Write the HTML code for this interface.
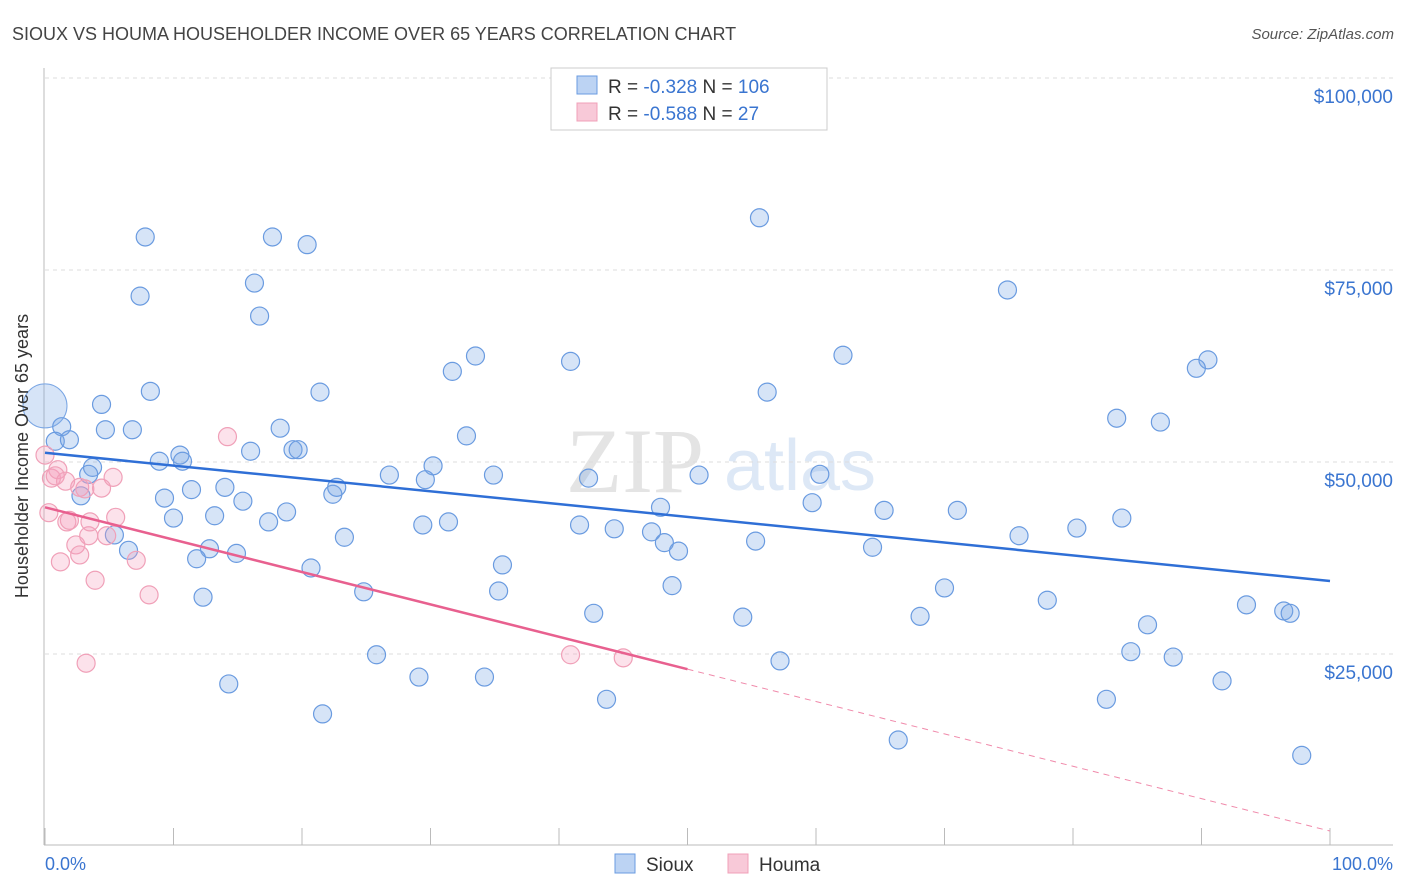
<!DOCTYPE html>
<html><head><meta charset="utf-8"><style>
body{margin:0;background:#fff;font-family:"Liberation Sans",sans-serif}
svg{display:block}
</style></head><body>
<svg id="c" width="1406" height="892" xmlns="http://www.w3.org/2000/svg">
<text x="12" y="40" font-size="18" fill="#444">SIOUX VS HOUMA HOUSEHOLDER INCOME OVER 65 YEARS CORRELATION CHART</text>
<text x="1394" y="39" font-size="15" fill="#555" font-style="italic" text-anchor="end">Source: ZipAtlas.com</text>
<text x="635" y="492" font-size="92" fill="#e4e4e4" font-family="Liberation Serif" text-anchor="middle">ZIP</text>
<text x="800" y="490" font-size="72" fill="#dde8f6" text-anchor="middle">atlas</text>
<g id="grid"></g>
<g id="axes"></g>
<g id="marks"></g>
<text x="28" y="456" font-size="18" fill="#333" text-anchor="middle" transform="rotate(-90 28 456)">Householder Income Over 65 years</text>
<text x="45" y="870" font-size="18" fill="#3a75d0">0.0%</text>
<text x="1393" y="870" font-size="18" fill="#3a75d0" text-anchor="end">100.0%</text>
<g>
<rect x="551" y="68" width="276" height="62" fill="#fff" stroke="#ccc"/>
<rect x="577" y="76" width="20" height="18" fill="#bcd3f3" stroke="#6a9be0"/>
<text x="608" y="93" font-size="19" fill="#333">R = <tspan fill="#3a75d0">-0.328</tspan>   N = <tspan fill="#3a75d0">106</tspan></text>
<rect x="577" y="103" width="20" height="18" fill="#f8c9d8" stroke="#f0a0b8"/>
<text x="608" y="120" font-size="19" fill="#333">R = <tspan fill="#3a75d0">-0.588</tspan>   N =   <tspan fill="#3a75d0">27</tspan></text>
</g>
<g>
<rect x="615" y="854" width="20" height="19" fill="#bcd3f3" stroke="#6a9be0"/>
<text x="646" y="871" font-size="19" fill="#333">Sioux</text>
<rect x="728" y="854" width="20" height="19" fill="#f8c9d8" stroke="#f0a0b8"/>
<text x="759" y="871" font-size="19" fill="#333">Houma</text>
</g>
</svg>
<script>
const yTicks=[25000,50000,75000,100000];
const yTickLabels=["$25,000","$50,000","$75,000","$100,000"];
const siouxX=[7.8,17.7,20.4,55.6,7.4,16.3,16.7,74.9,33.5,31.7,40.9,62.1,90.5,89.6,8.2,21.4,56.2,4.4,1.3,4.7,6.8,18.3,83.4,86.8,32.8,0.8,1.9,16.0,19.3,19.7,8.9,10.5,10.7,3.7,3.4,30.2,26.8,29.6,34.9,42.3,50.9,60.3,2.8,9.3,11.4,14.0,15.4,22.4,22.7,10.0,13.2,18.8,17.4,29.4,31.4,47.9,59.7,65.3,71.0,41.6,44.3,47.2,48.2,49.3,55.3,64.4,75.8,80.3,83.8,5.4,6.5,12.8,14.9,11.8,23.3,20.7,35.6,24.8,12.3,35.3,48.8,42.7,54.3,68.1,70.0,78.0,93.5,96.4,96.9,85.8,25.8,84.5,87.8,57.2,14.3,29.1,34.2,91.6,21.6,43.7,82.6,66.4,97.8];
const siouxY=[79.3,79.3,78.3,81.8,71.6,73.3,69.0,72.4,63.8,61.8,63.1,63.9,63.3,62.2,59.2,59.1,59.1,57.5,54.6,54.2,54.2,54.4,55.7,55.2,53.4,52.7,52.9,51.4,51.6,51.6,50.1,50.9,50.1,49.3,48.4,49.5,48.3,47.7,48.3,47.9,48.3,48.4,45.6,45.3,46.4,46.7,44.9,45.8,46.7,42.7,43.0,43.5,42.2,41.8,42.2,44.1,44.7,43.7,43.7,41.8,41.3,40.9,39.5,38.4,39.7,38.9,40.4,41.4,42.7,40.5,38.5,38.7,38.1,37.4,40.2,36.2,36.6,33.1,32.4,33.2,33.9,30.3,29.8,29.9,33.6,32.0,31.4,30.6,30.3,28.8,24.9,25.3,24.6,24.1,21.1,22.0,22.0,21.5,17.2,19.1,19.1,13.8,11.8];
const houmaX=[0,0.5,1.0,1.6,2.7,3.1,4.4,5.3,14.2,0.3,1.7,1.9,2.4,2.7,3.4,3.5,4.8,5.5,7.1,8.1,1.2,3.9,3.2,40.9,45.0,0.8];
const houmaY=[50.9,47.9,49.0,47.5,46.7,46.5,46.6,48.0,53.3,43.4,42.2,42.4,39.2,37.9,40.4,42.2,40.4,42.8,37.2,32.7,37.0,34.6,23.8,24.9,24.5,48.2];
const siouxTrend=[51.2,34.5];
const houmaTrend=[44.1,1.95];
const houmaSolidEnd=50;
const NS="http://www.w3.org/2000/svg";
const sx=p=>45+p*12.85;
const sy=v=>846-v*1000*192/25000;
function mk(t,a,p){const e=document.createElementNS(NS,t);for(const k in a)e.setAttribute(k,a[k]);p.appendChild(e);return e;}
const grid=document.getElementById('grid'),axes=document.getElementById('axes'),marks=document.getElementById('marks');
yTicks.forEach((t,i)=>{
 const y=846-t*192/25000;
 const l=mk('line',{x1:45,x2:1393,y1:y,y2:y,stroke:'#ddd','stroke-dasharray':'4,4'},grid);
 
 
 const tx=mk('text',{x:1393,y:y+25,'font-size':19,fill:'#3a75d0','text-anchor':'end'},grid);
 tx.textContent=yTickLabels[i];
 
 
});
const ax=mk('line',{x1:44,x2:1393,y1:845,y2:845,stroke:'#bbb'},axes);


const ay=mk('line',{x1:44,x2:44,y1:68,y2:845,stroke:'#bbb'},axes);


for(let i=0;i<=10;i++){const x=sx(i*10);
 const t=mk('line',{x1:x,x2:x,y1:828,y2:845,stroke:'#bbb'},axes);
 
 }
const big=mk('circle',{cx:sx(0),cy:sy(57.3),r:22,fill:'rgba(120,165,230,0.3)',stroke:'#7aa6e4'},marks);


siouxX.forEach((x,i)=>{
 const c=mk('circle',{cx:sx(x),cy:sy(siouxY[i]),r:9,fill:'rgba(120,165,230,0.3)',stroke:'#6a9be0','stroke-width':1.2},marks);
 
 
});
houmaX.forEach((x,i)=>{
 const c=mk('circle',{cx:sx(x),cy:sy(houmaY[i]),r:9,fill:'rgba(245,160,190,0.3)',stroke:'#f0a0b8','stroke-width':1.2},marks);
 
 
});
const bt=mk('line',{x1:sx(0),y1:sy(siouxTrend[0]),x2:sx(100),y2:sy(siouxTrend[1]),stroke:'#2f6fd6','stroke-width':2.5},marks);


const hm=houmaTrend[0]+(houmaTrend[1]-houmaTrend[0])*houmaSolidEnd/100;
const ht=mk('line',{x1:sx(0),y1:sy(houmaTrend[0]),x2:sx(houmaSolidEnd),y2:sy(hm),stroke:'#e8608f','stroke-width':2.5},marks);


const hd=mk('line',{x1:sx(houmaSolidEnd),y1:sy(hm),x2:sx(100),y2:sy(houmaTrend[1]),stroke:'#f08aab','stroke-width':1,'stroke-dasharray':'6,5'},marks);


</script>
</body></html>
